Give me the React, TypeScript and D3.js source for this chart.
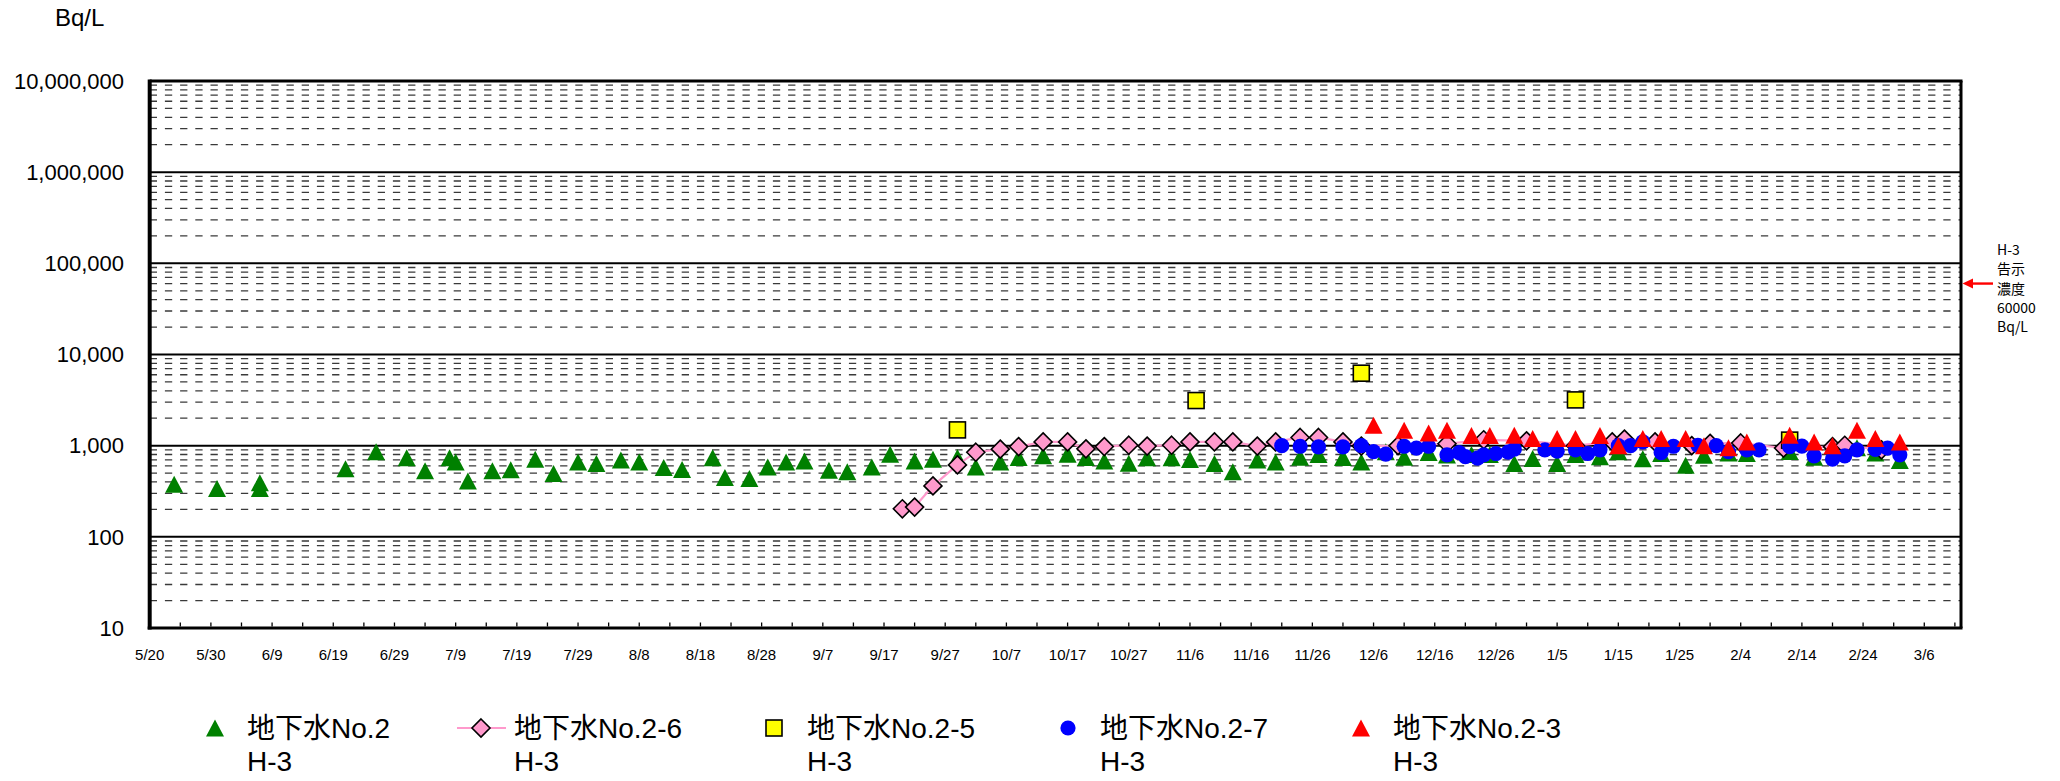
import React from "react";
import * as d3 from "d3";

const W = 2060;
const H = 781;

const yTickValues = [10, 100, 1000, 10000, 100000, 1000000, 10000000];
const yTickLabels = ["10", "100", "1,000", "10,000", "100,000", "1,000,000", "10,000,000"];
const xTickLabels = ["5/20", "5/30", "6/9", "6/19", "6/29", "7/9", "7/19", "7/29", "8/8", "8/18", "8/28", "9/7", "9/17", "9/27", "10/7", "10/17", "10/27", "11/6", "11/16", "11/26", "12/6", "12/16", "12/26", "1/5", "1/15", "1/25", "2/4", "2/14", "2/24", "3/6"];
const xDomain = ["2013-05-20", "2014-03-12"];

const no2: [string, number][] = [
  ["2013-05-24", 378], ["2013-05-31", 339], ["2013-06-07", 391], ["2013-06-07", 339], ["2013-06-21", 557], ["2013-06-26", 855], ["2013-07-01", 735], ["2013-07-04", 530], ["2013-07-08", 735], ["2013-07-09", 664], ["2013-07-11", 409], ["2013-07-15", 530], ["2013-07-18", 543], ["2013-07-22", 711], ["2013-07-25", 494], ["2013-07-29", 664], ["2013-08-01", 637], ["2013-08-05", 698], ["2013-08-08", 664], ["2013-08-12", 575], ["2013-08-15", 547], ["2013-08-20", 735], ["2013-08-22", 447], ["2013-08-26", 436], ["2013-08-29", 585], ["2013-09-01", 664], ["2013-09-04", 681], ["2013-09-08", 538], ["2013-09-11", 516], ["2013-09-15", 585], ["2013-09-18", 807], ["2013-09-22", 681], ["2013-09-25", 711], ["2013-09-29", 741], ["2013-10-02", 585], ["2013-10-06", 664], ["2013-10-09", 741], ["2013-10-13", 773], ["2013-10-17", 807], ["2013-10-20", 741], ["2013-10-23", 681], ["2013-10-27", 643], ["2013-10-30", 735], ["2013-11-03", 735], ["2013-11-06", 705], ["2013-11-10", 637], ["2013-11-13", 516], ["2013-11-17", 698], ["2013-11-20", 664], ["2013-11-24", 748], ["2013-11-27", 800], ["2013-12-01", 741], ["2013-12-04", 664], ["2013-12-08", 855], ["2013-12-11", 748], ["2013-12-15", 840], ["2013-12-18", 790], ["2013-12-22", 800], ["2013-12-25", 800], ["2013-12-29", 637], ["2014-01-01", 722], ["2014-01-05", 637], ["2014-01-08", 800], ["2014-01-12", 754], ["2014-01-15", 855], ["2014-01-19", 719], ["2014-01-22", 820], ["2014-01-26", 611], ["2014-01-29", 786], ["2014-02-02", 830], ["2014-02-05", 820], ["2014-02-12", 862], ["2014-02-16", 748], ["2014-02-23", 950], ["2014-02-26", 830], ["2014-03-02", 687],
];

const no2_6: [string, number][] = [
  ["2013-09-20", 203], ["2013-09-22", 212], ["2013-09-25", 362], ["2013-09-29", 615], ["2013-10-02", 848], ["2013-10-06", 915], ["2013-10-09", 977], ["2013-10-13", 1100], ["2013-10-17", 1100], ["2013-10-20", 923], ["2013-10-23", 977], ["2013-10-27", 1012], ["2013-10-30", 990], ["2013-11-03", 1012], ["2013-11-06", 1100], ["2013-11-10", 1100], ["2013-11-13", 1100], ["2013-11-17", 990], ["2013-11-20", 1100], ["2013-11-24", 1230], ["2013-11-27", 1230], ["2013-12-01", 1100], ["2013-12-04", 990], ["2013-12-10", 1000], ["2013-12-18", 1050], ["2013-12-24", 1160], ["2013-12-31", 1130], ["2014-01-08", 1000], ["2014-01-14", 1100], ["2014-01-16", 1180], ["2014-01-21", 1100], ["2014-01-27", 1000], ["2014-01-30", 1060], ["2014-02-04", 1070], ["2014-02-11", 940], ["2014-02-19", 975], ["2014-02-21", 1010], ["2014-02-27", 900],
];

const no2_5: [string, number][] = [
  ["2013-09-29", 1489], ["2013-11-07", 3126], ["2013-12-04", 6237], ["2014-01-08", 3177], ["2014-02-12", 1150],
];

const no2_7: [string, number][] = [
  ["2013-11-21", 1000], ["2013-11-24", 985], ["2013-11-27", 970], ["2013-12-01", 970], ["2013-12-04", 1000], ["2013-12-06", 862], ["2013-12-08", 807], ["2013-12-11", 985], ["2013-12-13", 940], ["2013-12-15", 985], ["2013-12-18", 793], ["2013-12-20", 840], ["2013-12-21", 760], ["2013-12-23", 730], ["2013-12-24", 793], ["2013-12-26", 820], ["2013-12-28", 848], ["2013-12-29", 915], ["2014-01-03", 900], ["2014-01-05", 870], ["2014-01-08", 900], ["2014-01-10", 820], ["2014-01-12", 900], ["2014-01-15", 1000], ["2014-01-17", 1000], ["2014-01-19", 1100], ["2014-01-22", 840], ["2014-01-24", 985], ["2014-01-28", 1010], ["2014-01-31", 1000], ["2014-02-02", 862], ["2014-02-05", 900], ["2014-02-07", 900], ["2014-02-12", 975], ["2014-02-14", 990], ["2014-02-16", 773], ["2014-02-19", 711], ["2014-02-21", 773], ["2014-02-23", 900], ["2014-02-26", 910], ["2014-02-28", 940], ["2014-03-02", 793],
];

const no2_3: [string, number][] = [
  ["2013-12-06", 1678], ["2013-12-11", 1479], ["2013-12-15", 1380], ["2013-12-18", 1479], ["2013-12-22", 1290], ["2013-12-25", 1290], ["2013-12-29", 1300], ["2014-01-01", 1197], ["2014-01-05", 1197], ["2014-01-08", 1197], ["2014-01-12", 1290], ["2014-01-15", 995], ["2014-01-19", 1197], ["2014-01-22", 1197], ["2014-01-26", 1197], ["2014-01-29", 995], ["2014-02-02", 946], ["2014-02-05", 1100], ["2014-02-12", 1304], ["2014-02-16", 1100], ["2014-02-19", 995], ["2014-02-23", 1479], ["2014-02-26", 1197], ["2014-03-02", 1100],
];

const legendNames = ["地下水No.2", "地下水No.2-6", "地下水No.2-5", "地下水No.2-7", "地下水No.2-3"];
const legendSub = "H-3";
const limitValue = 60000;
const limitLines = ["H-3", "告示", "濃度", "60000", "Bq/L"];
const unitLabel = "Bq/L";

const GREEN = "#008000";
const PINK = "#FF99CC";
const YELLOW = "#FFFF00";
const BLUE = "#0000FF";
const RED = "#FF0000";

const parse = d3.timeParse("%Y-%m-%d");
const FONT = '"Liberation Sans", Arial, "Noto Sans CJK JP", sans-serif';

const left = 149.7, right = 1961, top = 81, bottom = 628;

const x = d3.scaleTime().domain(xDomain.map((s) => parse(s) as Date)).range([left, right]);
const y = d3.scaleLog().domain([10, 10000000]).range([bottom, top]);

function labelDate(lbl: string): Date {
  const [m, d] = lbl.split("/").map(Number);
  return new Date(m >= 5 ? 2013 : 2014, m - 1, d);
}

const tri = (cx: number, cy: number, c: string, k: number) => (
  <path key={k} d={`M${cx},${cy - 8.5}L${cx + 9},${cy + 8.5}L${cx - 9},${cy + 8.5}Z`} fill={c} />
);
const diamond = (cx: number, cy: number, k: number) => (
  <path key={k} d={`M${cx},${cy - 9}L${cx + 9},${cy}L${cx},${cy + 9}L${cx - 9},${cy}Z`} fill={PINK} stroke="#000" strokeWidth={1.6} />
);
const square = (cx: number, cy: number, k: number) => (
  <rect key={k} x={cx - 8} y={cy - 8} width={16} height={16} fill={YELLOW} stroke="#000" strokeWidth={1.6} />
);
const circle = (cx: number, cy: number, k: number) => <circle key={k} cx={cx} cy={cy} r={7.6} fill={BLUE} />;

export default function App() {
  const start = parse(xDomain[0]) as Date;
  const end = parse(xDomain[1]) as Date;
  const minorTicks: Date[] = [];
  for (let t = start; t < end; t = d3.timeDay.offset(t, 5)) minorTicks.push(t);

  const minorGrid: number[] = [];
  for (let e = 1; e <= 6; e++) for (let m = 2; m <= 9; m++) minorGrid.push(m * Math.pow(10, e));
  const majorGrid = yTickValues.slice(1, -1);

  const pt = (d: [string, number]) => [x(parse(d[0]) as Date), y(d[1])] as [number, number];
  const pinkLine = d3.line<[string, number]>().x((d) => pt(d)[0]).y((d) => pt(d)[1])(no2_6) || "";

  const ly = y(limitValue);
  const legX = [215, 481, 774, 1068, 1361];
  const legT = [247, 514, 807, 1100, 1393];
  const legY = 728;

  return (
    <svg width={W} height={H} style={{ position: "absolute", left: 0, top: 0, background: "#fff" }} fontFamily={FONT}>
      <rect x={0} y={0} width={W} height={H} fill="#fff" />
      {minorGrid.map((v, i) => (
        <line key={"mg" + i} x1={left} x2={right} y1={y(v)} y2={y(v)} stroke="#3a3a3a" strokeWidth={1.3} strokeDasharray="7.3 7.9" />
      ))}
      {majorGrid.map((v, i) => (
        <line key={"Mg" + i} x1={left} x2={right} y1={y(v)} y2={y(v)} stroke="#000" strokeWidth={2} />
      ))}
      <line x1={left} x2={right + 1.5} y1={top} y2={top} stroke="#000" strokeWidth={3} />
      <line x1={right} x2={right} y1={top} y2={bottom} stroke="#000" strokeWidth={3} />
      <line x1={left - 2} x2={right + 1.5} y1={bottom} y2={bottom} stroke="#000" strokeWidth={3} />
      <line x1={left} x2={left} y1={top - 1.5} y2={bottom + 1.5} stroke="#000" strokeWidth={4} />
      {minorTicks.map((t, i) => (
        <line key={"xt" + i} x1={x(t)} x2={x(t)} y1={bottom - 1.5} y2={bottom - 5.5} stroke="#000" strokeWidth={1.3} />
      ))}
      {xTickLabels.map((l, i) => (
        <text key={"xl" + i} x={x(labelDate(l))} y={660} fontSize={15} textAnchor="middle" fill="#000">{l}</text>
      ))}
      {yTickValues.map((v, i) => (
        <text key={"yl" + i} x={124} y={y(v) + 7.8} fontSize={22} textAnchor="end" fill="#000">{yTickLabels[i]}</text>
      ))}
      <text x={55} y={26} fontSize={24} fill="#000">{unitLabel}</text>

      <g>{no2.map((d, i) => { const [cx, cy] = pt(d); return tri(cx, cy, GREEN, i); })}</g>
      <path d={pinkLine} fill="none" stroke={PINK} strokeWidth={2.2} />
      <g>{no2_6.map((d, i) => { const [cx, cy] = pt(d); return diamond(cx, cy, i); })}</g>
      <g>{no2_5.map((d, i) => { const [cx, cy] = pt(d); return square(cx, cy, i); })}</g>
      <g>{no2_7.map((d, i) => { const [cx, cy] = pt(d); return circle(cx, cy, i); })}</g>
      <g>{no2_3.map((d, i) => { const [cx, cy] = pt(d); return tri(cx, cy, RED, i); })}</g>

      <line x1={1993} x2={1971} y1={ly} y2={ly} stroke={RED} strokeWidth={2.4} />
      <path d={`M${right + 1.5},${ly}L${right + 12},${ly - 5}L${right + 12},${ly + 5}Z`} fill={RED} />
      {limitLines.map((s, i) => (
        <text key={"lim" + i} x={1997} y={255 + i * 19.3} fontSize={14} fontFamily='"Noto Sans CJK JP", sans-serif' fill="#000">{s}</text>
      ))}

      {tri(legX[0], legY, GREEN, 0)}
      <line x1={457} x2={506} y1={legY} y2={legY} stroke={PINK} strokeWidth={2.2} />
      {diamond(legX[1], legY, 0)}
      {square(legX[2], legY, 0)}
      {circle(legX[3], legY, 0)}
      {tri(legX[4], legY, RED, 0)}
      {legendNames.map((n, i) => (
        <g key={"lg" + i}>
          <text x={legT[i]} y={738} fontSize={28} fill="#000">{n}</text>
          <text x={legT[i]} y={771} fontSize={28} fill="#000">{legendSub}</text>
        </g>
      ))}
    </svg>
  );
}
